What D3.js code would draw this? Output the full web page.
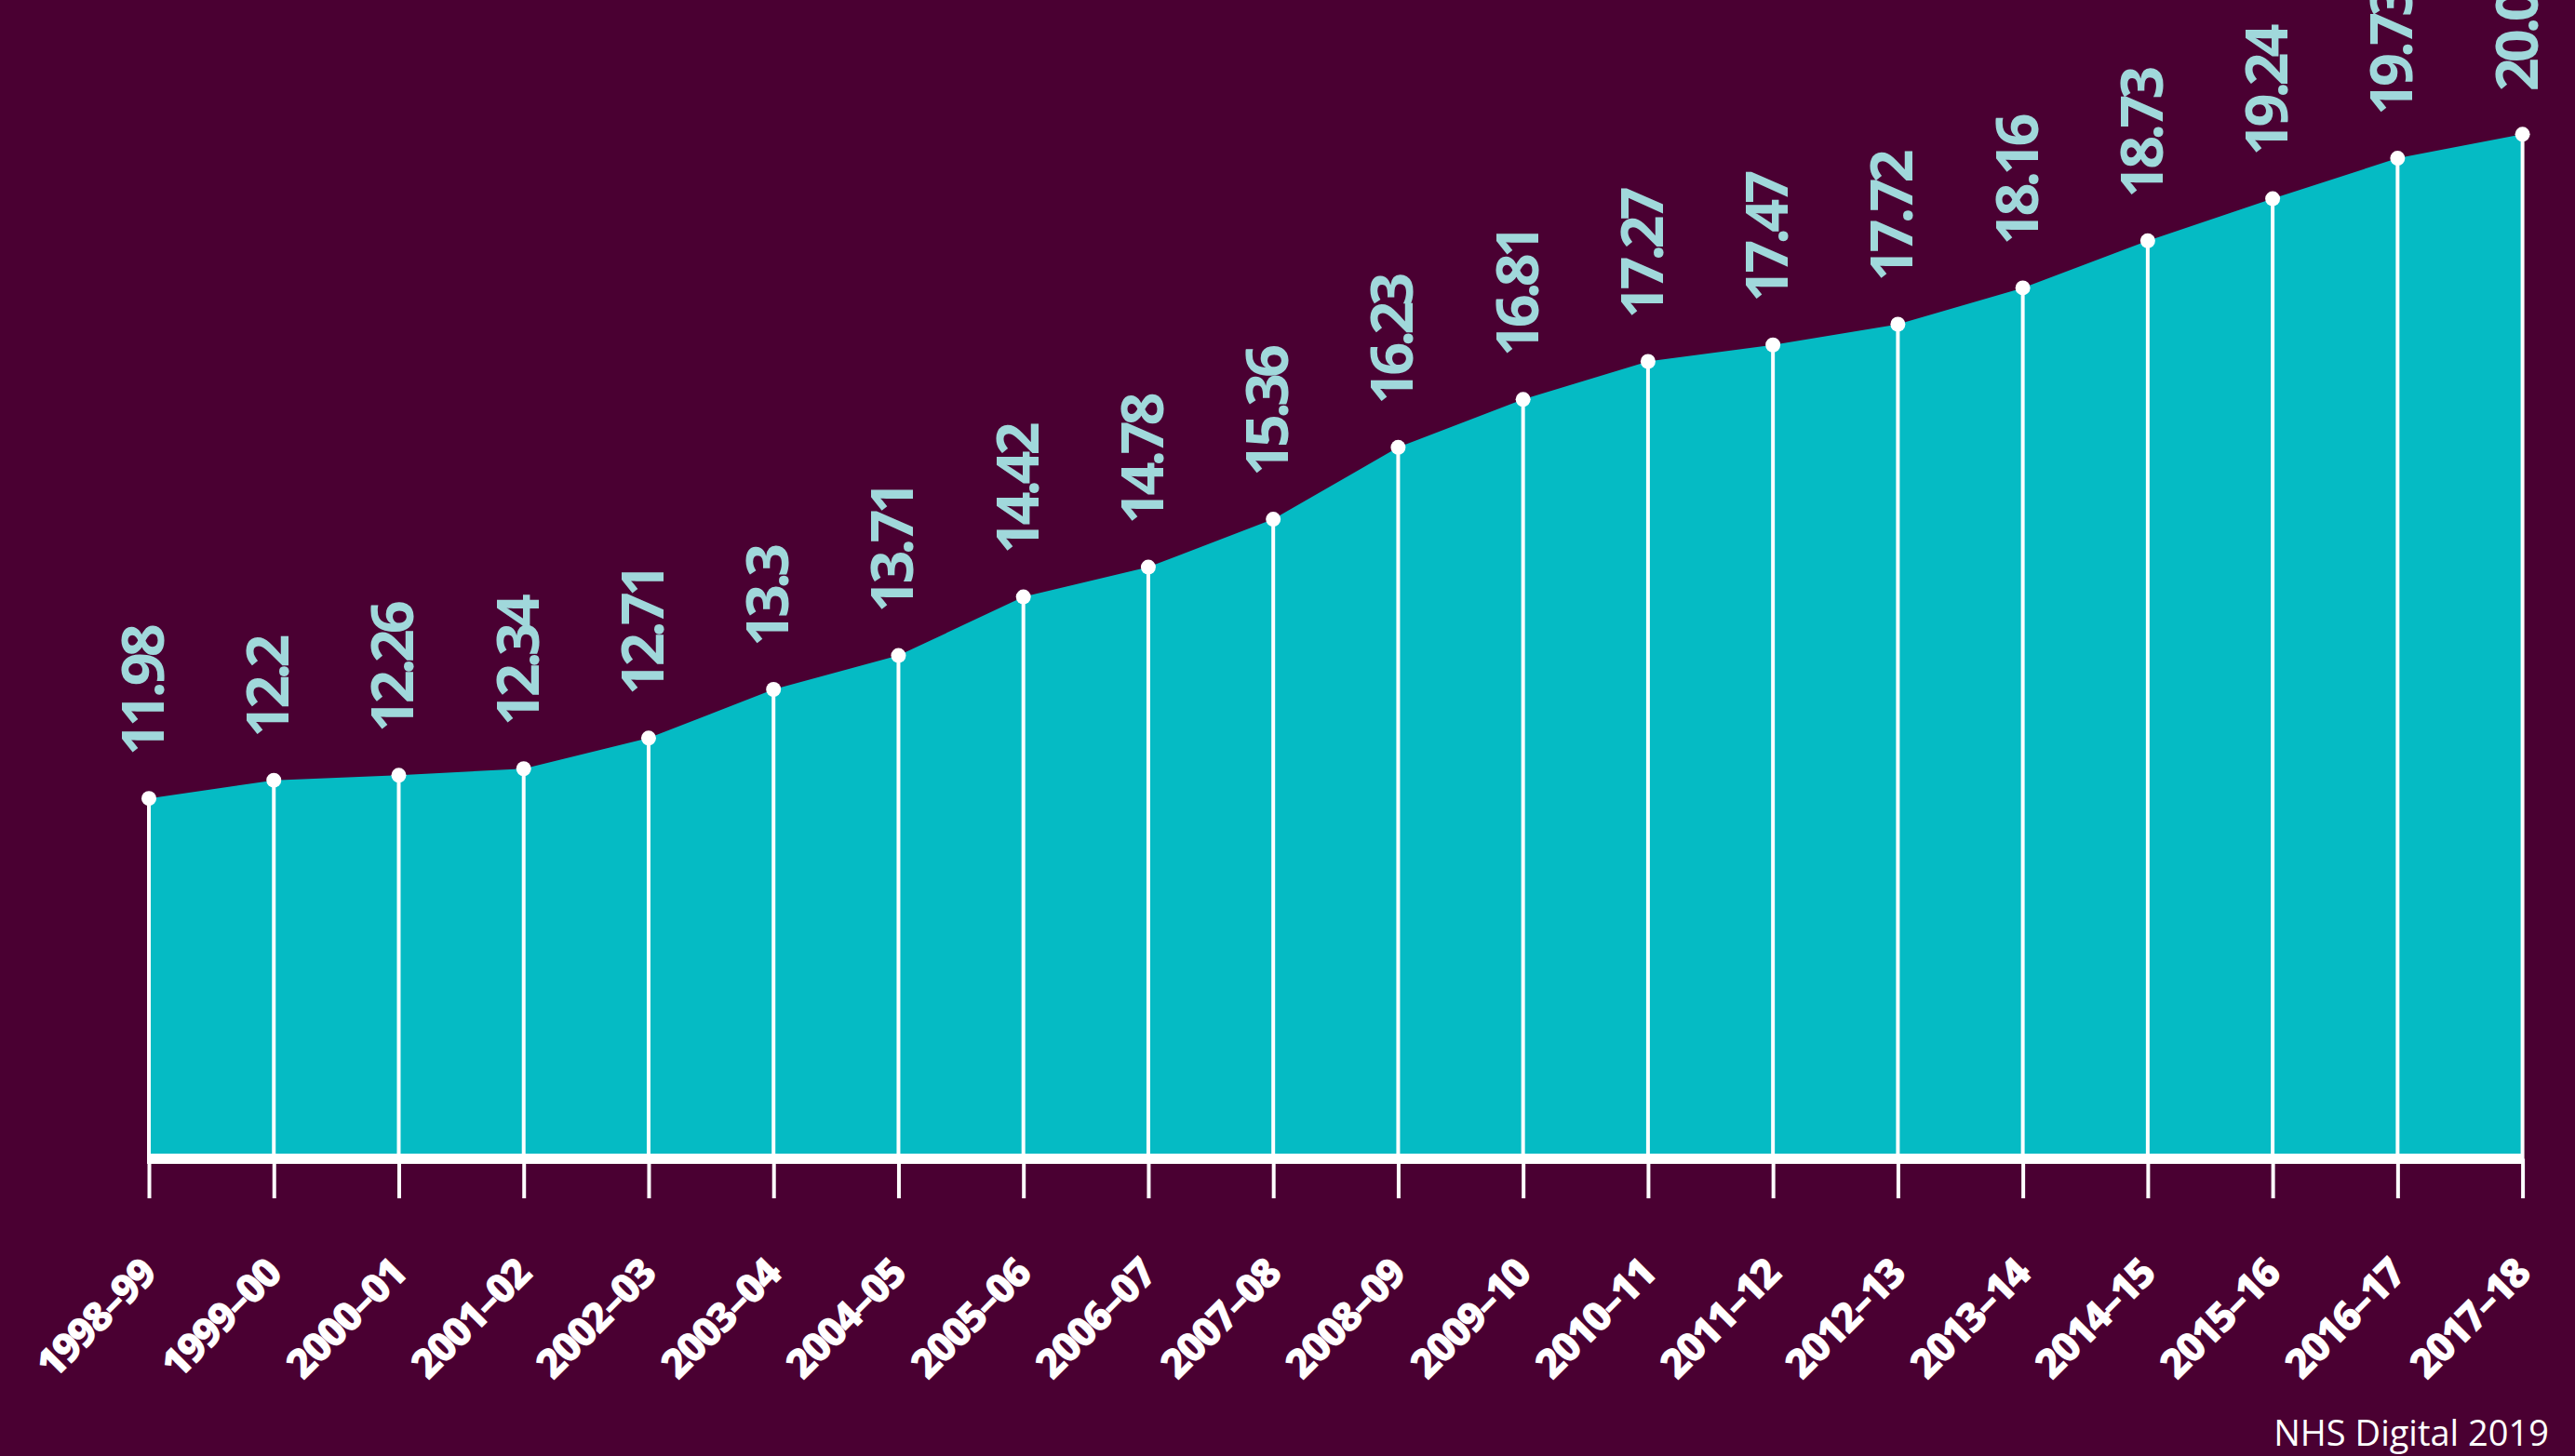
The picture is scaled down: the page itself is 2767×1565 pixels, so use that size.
<!DOCTYPE html>
<html>
<head>
<meta charset="utf-8">
<script src="https://cdn.jsdelivr.net/npm/d3@7"></script>
<style>
  html, body { margin: 0; padding: 0; background: #4a0032; }
  svg { display: block; }
</style>
</head>
<body>
<svg id="chart" width="2767" height="1565"></svg>
<script>
const years = ["1998–99","1999–00","2000–01","2001–02","2002–03","2003–04","2004–05","2005–06","2006–07","2007–08",
               "2008–09","2009–10","2010–11","2011–12","2012–13","2013–14","2014–15","2015–16","2016–17","2017–18"];
const values = [11.98,12.2,12.26,12.34,12.71,13.3,13.71,14.42,14.78,15.36,
                16.23,16.81,17.27,17.47,17.72,18.16,18.73,19.24,19.73,20.02];
const valueLabels = ["11.98","12.2","12.26","12.34","12.71","13.3","13.71","14.42","14.78","15.36",
                     "16.23","16.81","17.27","17.47","17.72","18.16","18.73","19.24","19.73","20.02"];
const source = "NHS Digital 2019";

(function () {
const W = 2767, H = 1565;
const plotLeft = 160, plotRight = 2710.6, plotBase = 1240, plotTop = 144.3;
const yDomain = [7.68, 20.02];

const BG = "#4a0032", TEAL = "#05bbc4", LABEL = "#a0d8db";

const svg = d3.select("#chart");
svg.append("rect").attr("width", W).attr("height", H).attr("fill", BG);

const x = d3.scalePoint().domain(years).range([plotLeft, plotRight]);
const y = d3.scaleLinear().domain(yDomain).range([plotBase, plotTop]);

const data = years.map((k, i) => ({ k, v: values[i], label: valueLabels[i] }));

// area
svg.append("path")
  .datum(data)
  .attr("fill", TEAL)
  .attr("d", d3.area().x(d => x(d.k)).y0(plotBase).y1(d => y(d.v)));

// drop lines
svg.append("g").selectAll("line").data(data).join("line")
  .attr("x1", d => x(d.k)).attr("x2", d => x(d.k))
  .attr("y1", d => y(d.v)).attr("y2", plotBase)
  .attr("stroke", "#fff").attr("stroke-width", 4);

// axis: thick baseline + ticks
const axisY = plotBase + 5.5;
const axis = svg.append("g")
  .attr("transform", `translate(0,${axisY})`)
  .call(d3.axisBottom(x).tickSizeInner(42.5).tickSizeOuter(0).tickFormat(""));
axis.select(".domain").attr("stroke", "#fff").attr("stroke-width", 11).attr("d", `M${plotLeft - 2},0H${plotRight + 2}`);
axis.selectAll(".tick line").attr("stroke", "#fff").attr("stroke-width", 4);

// x labels rotated -45
svg.append("g").selectAll("text").data(data).join("text")
  .attr("transform", d => `translate(${x(d.k) + 10},${1372}) rotate(-45)`)
  .attr("text-anchor", "end")
  .attr("fill", "#fff")
  .attr("font-family", "'Open Sans', sans-serif")
  .attr("font-weight", 800)
  .attr("font-size", 44)
  .attr("letter-spacing", "-2.5px")
  .text(d => d.k);

// dots
svg.append("g").selectAll("circle").data(data).join("circle")
  .attr("cx", d => x(d.k)).attr("cy", d => y(d.v)).attr("r", 8)
  .attr("fill", "#fff");

// value labels rotated -90
svg.append("g").selectAll("text").data(data).join("text")
  .attr("transform", d => `translate(${x(d.k) + 16},${y(d.v) - 46}) rotate(-90)`)
  .attr("text-anchor", "start")
  .attr("fill", LABEL)
  .attr("font-family", "'Open Sans', sans-serif")
  .attr("font-weight", 700)
  .attr("font-size", 63)
  .attr("letter-spacing", "-5px")
  .text(d => d.label);

// source
svg.append("text")
  .attr("x", 2739).attr("y", 1554)
  .attr("text-anchor", "end")
  .attr("fill", "#fff")
  .attr("font-family", "'Open Sans', sans-serif")
  .attr("font-weight", 400)
  .attr("font-size", 38)
  .text(source);
})();
</script>
</body>
</html>
